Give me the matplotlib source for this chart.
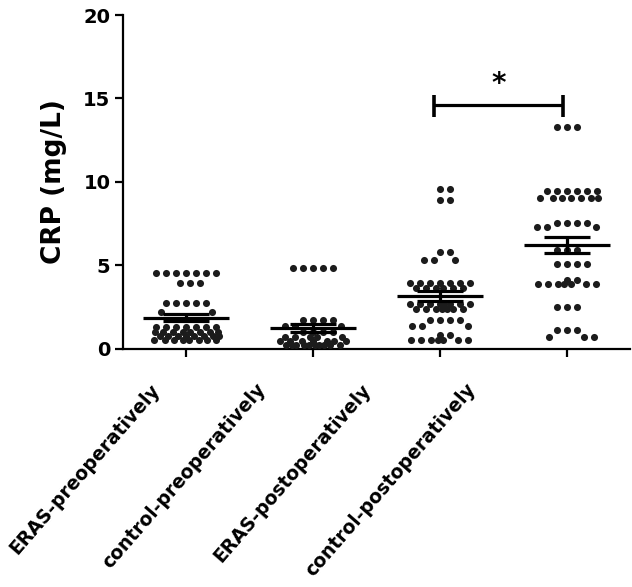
import numpy as np
import matplotlib.pyplot as plt

plt.rcParams['font.family'] = 'DejaVu Sans'
plt.rcParams['font.weight'] = 'bold'

# Data (CRP, mg/L)
groups = ['ERAS-preoperatively', 'control-preoperatively',
          'ERAS-postoperatively', 'control-postoperatively']

eras_pre = ([4.5] * 7 + [3.95] * 3 + [2.7] * 5 + [2.2] * 2 +
            [1.3] * 7 + [1.0] * 8 + [0.75] * 8 + [0.5] * 8)
control_pre = ([4.8] * 5 + [1.7] * 4 + [1.35] * 3 + [1.0] * 4 +
               [0.7] * 5 + [0.45] * 7 + [0.2] * 10)
eras_post = ([9.55] * 2 + [8.9] * 2 + [5.8] * 2 + [5.3] * 3 + [3.9] * 7 +
             [3.6] * 6 + [2.65] * 8 + [2.35] * 7 + [1.7] * 4 + [1.35] * 3 +
             [0.8] * 2 + [0.5] * 7)
control_post = ([13.3] * 3 + [9.45] * 6 + [9.0] * 7 + [7.5] * 4 + [7.3] * 3 +
                [5.9] * 3 + [5.05] * 4 + [4.1] * 2 + [3.85] * 7 + [2.5] * 3 +
                [1.1] * 3 + [0.7] * 3)
data = [eras_pre, control_pre, eras_post, control_post]

# significance bracket between the two postoperative groups
sig_pair = (2, 3)
sig_level = 14.6
sig_text = '*'

# Figure Setting
W, H = 632, 587
fig = plt.figure(figsize=(W / 100, H / 100), dpi=100)
ax = fig.add_axes([0.1946, 0.4063, 0.8024, 0.568])
ax.set_xlim(-0.5, 3.5)
ax.set_ylim(0, 20)

px_x = 0.8024 * W / 4.0   # pixels per x unit
px_y = 0.568 * H / 20.0   # pixels per y unit


def swarm(values, spacing=9.8, maxw=33.0):
    # greedy beeswarm in pixel units, squeezes points when too wide
    vals = np.asarray(values, dtype=float)
    order = np.argsort(-vals, kind='stable')
    placed = []
    offs = np.zeros(len(vals))
    for i in order:
        y = vals[i] * px_y
        s = spacing
        best = None
        while best is None:
            near = [(px, py) for px, py in placed if abs(py - y) < s]
            step = 0
            while step * 0.5 <= maxw and best is None:
                cands = [0.0] if step == 0 else [step * 0.5, -step * 0.5]
                for c in cands:
                    if all((c - px) ** 2 + (y - py) ** 2 >= s ** 2 for px, py in near):
                        best = c
                        break
                step += 1
            s *= 0.85
        placed.append((best, y))
        offs[i] = best / px_x
    return offs


for i, vals in enumerate(data):
    offs = swarm(vals)
    ax.scatter(i + offs, vals, s=26, color='#1c1c1c', linewidths=0, zorder=3)
    m = np.mean(vals)
    sem = np.std(vals, ddof=1) / np.sqrt(len(vals))
    ax.hlines(m, i - 0.34, i + 0.34, color='black', lw=2.3, zorder=4)
    ax.errorbar(i, m, yerr=sem, fmt='none', ecolor='black', elinewidth=2.3,
                capsize=16.5, capthick=2.3, zorder=4)

# bracket
x1, x2 = sig_pair[0] - 0.05, sig_pair[1] - 0.03
ax.plot([x1, x2], [sig_level, sig_level], color='black', lw=2.3, solid_capstyle='butt')
ax.vlines([x1, x2], sig_level - 0.7, sig_level + 0.6, color='black', lw=2.6)
ax.text((x1 + x2) / 2, sig_level + 0.45, sig_text, ha='center', va='bottom',
        fontsize=20, fontweight='bold')

# axes styling
for s in ['top', 'right']:
    ax.spines[s].set_visible(False)
for s in ['left', 'bottom']:
    ax.spines[s].set_linewidth(1.6)
ax.set_yticks([0, 5, 10, 15, 20])
ax.tick_params(axis='both', width=1.6, length=6, labelsize=14, pad=3)
ax.set_xticks(range(len(groups)))
ax.set_xticklabels([''] * len(groups))
ax.set_ylabel('CRP (mg/L)', fontsize=19, fontweight='bold', labelpad=12)

# rotated category labels
trans = ax.get_xaxis_transform()
for i, g in enumerate(groups):
    ax.text(i * 0.83 - 0.29, -0.095, g, transform=trans, rotation=49,
            rotation_mode='anchor', ha='right', va='top', fontsize=13.5,
            fontweight='bold')

fig.savefig('out.png', dpi=100)
